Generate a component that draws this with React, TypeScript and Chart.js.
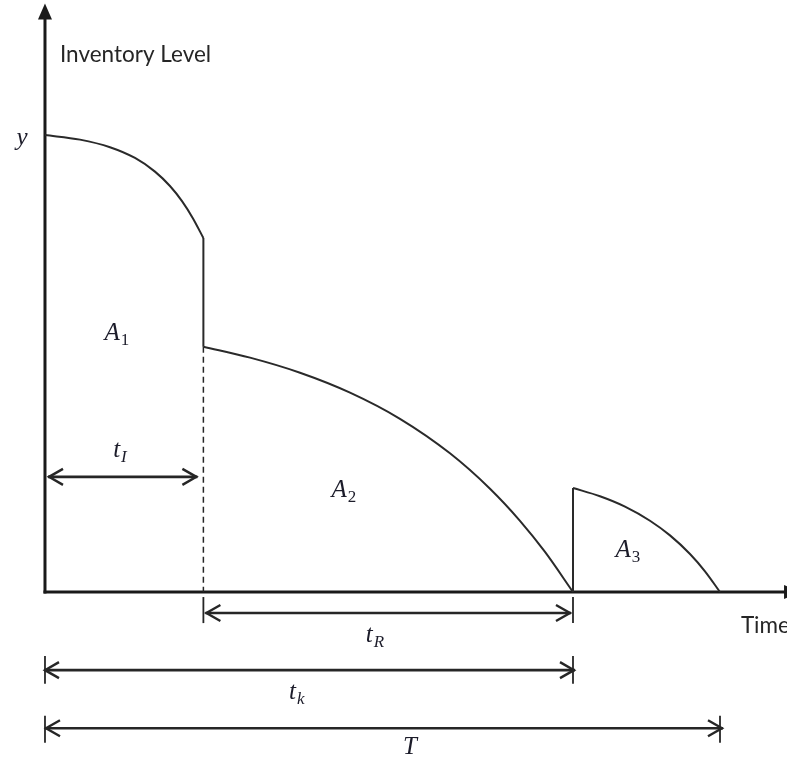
import React, { useEffect, useRef } from "react";
import { Chart, registerables } from "chart.js";

Chart.register(...registerables);

// ---- Data (time units on x, inventory units on y) ----
const yLevel = 100; // initial inventory y
const tI = 3;
const tK = 10;
const T = 12.784;

const curve1X = [0, 0.663, 1.231, 1.705, 2.083, 2.367, 2.595, 2.803, 3];
const curve1Y = [100, 98.99, 97.33, 94.97, 91.99, 88.84, 85.54, 81.75, 77.46];

const dropX = [3, 3];
const dropY = [77.46, 53.68];

const curve2X = [3, 3.883, 4.83, 5.777, 6.723, 7.67, 8.428, 8.996, 9.47, 10];
const curve2Y = [53.68, 51.29, 47.99, 43.63, 37.9, 30.35, 22.6, 15.58, 8.77, 0];

const riseX = [10, 10];
const riseY = [0, 22.76];

const curve3X = [10, 10.511, 10.985, 11.458, 11.837, 12.216, 12.5, 12.784];
const curve3Y = [22.76, 20.96, 18.69, 15.6, 12.39, 8.32, 4.53, 0];

// ---- Layout config (positions in data units) ----
const xMin = -0.852;
const xMax = 14.053;
const yMin = -36.32;
const yMax = 129.54;

const dims = [
  { from: 0, to: tI, y: 25.2, tickTop: null as number | null, tickBot: null as number | null, gapL: 3, gapR: 6 },
  { from: tI, to: tK, y: -4.6, tickTop: -1.1, tickBot: -6.8, gapL: 2, gapR: 2 },
  { from: 0, to: tK, y: -17.1, tickTop: -14.0, tickBot: -20.1, gapL: -1, gapR: -2 },
  { from: 0, to: T, y: -29.8, tickTop: -27.1, tickBot: -33.0, gapL: 0, gapR: -3 },
];

const mathLabels = [
  { x: 1.36, y: 56.7, main: "A", sub: "1", subItalic: false },
  { x: 5.66, y: 22.3, main: "A", sub: "2", subItalic: false },
  { x: 11.04, y: 9.2, main: "A", sub: "3", subItalic: false },
  { x: 1.42, y: 31.1, main: "t", sub: "I", subItalic: true },
  { x: 6.25, y: -9.4, main: "t", sub: "R", subItalic: true },
  { x: 4.77, y: -21.9, main: "t", sub: "k", subItalic: true },
  { x: 6.91, y: -33.9, main: "T", sub: "", subItalic: true },
  { x: -0.436, y: 99.3, main: "y", sub: "", subItalic: true },
];

const INK = "#262626";
const MATH_FONT = "'Liberation Serif', 'DejaVu Serif', serif";
const TEXT_FONT = "Lato, 'Open Sans', sans-serif";

const pts = (xs: number[], ys: number[]) => xs.map((x, i) => ({ x, y: ys[i] }));

const diagramPlugin = {
  id: "diagram",
  beforeDatasetsDraw(chart: any) {
    const ctx: CanvasRenderingContext2D = chart.ctx;
    const xs = chart.scales.x;
    const ys = chart.scales.y;
    const x0 = xs.getPixelForValue(0);
    const y0 = ys.getPixelForValue(0);
    ctx.save();
    ctx.strokeStyle = "#1a1a1a";
    ctx.fillStyle = "#1a1a1a";
    ctx.lineWidth = 3;
    // y axis
    const yTip = ys.getPixelForValue(128.8);
    ctx.beginPath();
    ctx.moveTo(x0, y0 + 1.5);
    ctx.lineTo(x0, yTip + 14);
    ctx.stroke();
    ctx.beginPath();
    ctx.moveTo(x0, yTip);
    ctx.lineTo(x0 - 7, yTip + 16);
    ctx.lineTo(x0 + 7, yTip + 16);
    ctx.closePath();
    ctx.fill();
    // x axis
    const xTip = xs.getPixelForValue(14.3);
    ctx.beginPath();
    ctx.moveTo(x0 - 1.5, y0);
    ctx.lineTo(xTip - 14, y0);
    ctx.stroke();
    ctx.beginPath();
    ctx.moveTo(xTip, y0);
    ctx.lineTo(xTip - 16, y0 - 7);
    ctx.lineTo(xTip - 16, y0 + 7);
    ctx.closePath();
    ctx.fill();
    // dashed line at tI
    ctx.lineWidth = 1.5;
    ctx.strokeStyle = INK;
    ctx.setLineDash([6, 4]);
    ctx.beginPath();
    ctx.moveTo(xs.getPixelForValue(tI), ys.getPixelForValue(dropY[1]));
    ctx.lineTo(xs.getPixelForValue(tI), y0);
    ctx.stroke();
    ctx.restore();
  },
  afterDatasetsDraw(chart: any) {
    const ctx: CanvasRenderingContext2D = chart.ctx;
    const xs = chart.scales.x;
    const ys = chart.scales.y;
    ctx.save();
    ctx.strokeStyle = INK;
    ctx.lineCap = "butt";
    // dimension arrows
    dims.forEach((d) => {
      const xa = xs.getPixelForValue(d.from);
      const xb = xs.getPixelForValue(d.to);
      const y = ys.getPixelForValue(d.y);
      if (d.tickTop !== null && d.tickBot !== null) {
        ctx.lineWidth = 1.8;
        [xa, xb].forEach((xx) => {
          ctx.beginPath();
          ctx.moveTo(xx, ys.getPixelForValue(d.tickTop as number));
          ctx.lineTo(xx, ys.getPixelForValue(d.tickBot as number));
          ctx.stroke();
        });
      }
      const l = xa + d.gapL;
      const r = xb - d.gapR;
      ctx.lineWidth = 2.6;
      ctx.beginPath();
      ctx.moveTo(l, y);
      ctx.lineTo(r, y);
      ctx.stroke();
      ctx.lineWidth = 2.4;
      ctx.lineJoin = "miter";
      ctx.beginPath();
      ctx.moveTo(l + 15, y - 8);
      ctx.lineTo(l + 1, y);
      ctx.lineTo(l + 15, y + 8);
      ctx.stroke();
      ctx.beginPath();
      ctx.moveTo(r - 15, y - 8);
      ctx.lineTo(r - 1, y);
      ctx.lineTo(r - 15, y + 8);
      ctx.stroke();
    });

    // math labels
    ctx.fillStyle = "#1c1c2a";
    ctx.textBaseline = "alphabetic";
    mathLabels.forEach((m) => {
      const cx = xs.getPixelForValue(m.x);
      const cy = ys.getPixelForValue(m.y);
      const mainFont = `italic 25px ${MATH_FONT}`;
      const subFont = `${m.subItalic ? "italic " : ""}17px ${MATH_FONT}`;
      ctx.font = mainFont;
      const wMain = ctx.measureText(m.main).width;
      ctx.font = subFont;
      const wSub = m.sub ? ctx.measureText(m.sub).width : 0;
      const total = wMain + wSub + (m.sub ? 1 : 0);
      const left = cx - total / 2;
      const base = cy + 7;
      ctx.font = mainFont;
      ctx.textAlign = "left";
      ctx.fillText(m.main, left, base);
      if (m.sub) {
        ctx.font = subFont;
        ctx.fillText(m.sub, left + wMain + 1, base + 5);
      }
    });

    // text labels
    ctx.fillStyle = "#262626";
    ctx.font = `22.5px ${TEXT_FONT}`;
    ctx.textAlign = "left";
    ctx.textBaseline = "alphabetic";
    ctx.fillText("Inventory Level", xs.getPixelForValue(0.284), ys.getPixelForValue(116.0));
    ctx.fillText("Time", xs.getPixelForValue(13.18), ys.getPixelForValue(-9.0));
    ctx.restore();
  },
};

export default function App() {
  const ref = useRef<HTMLCanvasElement>(null);
  useEffect(() => {
    if (!ref.current) return;
    const lineStyle = {
      showLine: true,
      pointRadius: 0,
      borderColor: "#2a2a2a",
      borderWidth: 2,
      fill: false,
    };
    const chart = new Chart(ref.current, {
      type: "scatter",
      data: {
        datasets: [
          { ...lineStyle, data: pts(curve1X, curve1Y), cubicInterpolationMode: "monotone" } as any,
          { ...lineStyle, data: pts(dropX, dropY) } as any,
          { ...lineStyle, data: pts(curve2X, curve2Y), cubicInterpolationMode: "monotone" } as any,
          { ...lineStyle, data: pts(riseX, riseY) } as any,
          { ...lineStyle, data: pts(curve3X, curve3Y), cubicInterpolationMode: "monotone" } as any,
        ],
      },
      options: {
        animation: false,
        responsive: false,
        maintainAspectRatio: false,
        layout: { padding: 0 },
        plugins: { legend: { display: false }, tooltip: { enabled: false } },
        scales: {
          x: { type: "linear", display: false, min: xMin, max: xMax },
          y: { type: "linear", display: false, min: yMin, max: yMax },
        },
      },
      plugins: [diagramPlugin],
    });
    return () => chart.destroy();
  }, []);
  return (
    <div style={{ position: "fixed", left: 0, top: 0, width: 787, height: 758, background: "#fff" }}>
      <canvas ref={ref} width={787} height={758} style={{ display: "block", width: 787, height: 758 }} />
    </div>
  );
}
